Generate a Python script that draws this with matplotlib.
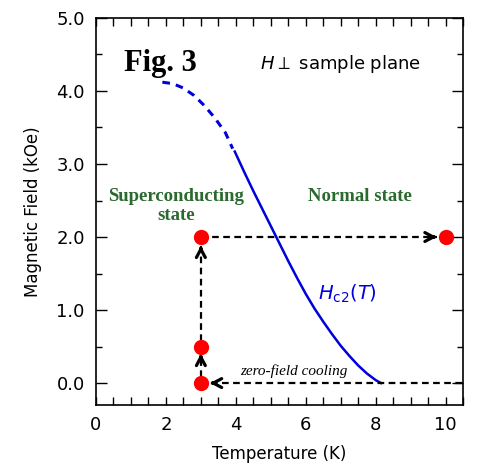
import numpy as np
import matplotlib
matplotlib.use("Agg")
import matplotlib.pyplot as plt
from matplotlib.ticker import MultipleLocator

# Hc2(T) curve
hc2_dash_T = [1.90, 2.20, 2.50, 2.80, 3.10, 3.40, 3.70, 3.91]
hc2_dash_H = [4.12, 4.10, 4.04, 3.94, 3.80, 3.63, 3.43, 3.21]
hc2_T = [3.97, 4.25, 4.50, 4.75, 5.00, 5.25, 5.50, 5.75, 6.00, 6.25, 6.50,
         6.75, 7.00, 7.25, 7.50, 7.75, 8.00, 8.15]
hc2_H = [3.17, 2.88, 2.63, 2.39, 2.15, 1.91, 1.67, 1.44, 1.22, 1.02, 0.84,
         0.67, 0.51, 0.37, 0.24, 0.13, 0.04, 0.00]

# measurement points
pts_T = [3, 3, 3, 10]
pts_H = [0, 0.5, 2.0, 2.0]

# path arrows (start T, start H, tip T, tip H)
arrows = [
    (10.46, 0.0, 3.26, 0.0),
    (3.0, 0.08, 3.0, 0.40),
    (3.0, 0.58, 3.0, 1.88),
    (3.0, 2.0, 9.74, 2.0),
]

green = '#2a6a2e'

fig = plt.figure(figsize=(4.82, 4.72), dpi=100)
ax = fig.add_axes([0.199, 0.142, 0.762, 0.820])

ax.plot(hc2_dash_T, hc2_dash_H, color='#0000dd', lw=2.2, ls=(0, (2.5, 2.0)))
ax.plot(hc2_T, hc2_H, color='#0000dd', lw=1.8, solid_joinstyle='round')

for x0, y0, x1, y1 in arrows:
    ax.plot([x0, x1], [y0, y1], color='black', lw=1.6, ls=(0, (3, 2)))
    dx, dy = x1 - x0, y1 - y0
    d = np.hypot(dx / 10.5, dy / 5.3)
    ax.annotate('', xy=(x1, y1), xytext=(x1 - dx / d * 0.01, y1 - dy / d * 0.01),
                arrowprops=dict(arrowstyle='->,head_length=0.6,head_width=0.32',
                                color='black', lw=2.3, shrinkA=0, shrinkB=0))

ax.plot(pts_T, pts_H, 'o', color='#ff0000', ms=11, mec='none', zorder=5)

ax.set_xlim(0, 10.5)
ax.set_ylim(-0.3, 5.0)
ax.xaxis.set_major_locator(MultipleLocator(2))
ax.xaxis.set_minor_locator(MultipleLocator(0.5))
ax.yaxis.set_major_locator(MultipleLocator(1))
ax.yaxis.set_minor_locator(MultipleLocator(0.5))
ax.set_yticks([0, 1, 2, 3, 4, 5])
ax.set_yticklabels(['0.0', '1.0', '2.0', '3.0', '4.0', '5.0'])
ax.tick_params(which='both', direction='in', top=True, right=True, width=1.0, labelsize=13, pad=8)
ax.tick_params(axis='x', which='both', length=6)
ax.tick_params(axis='y', which='major', length=8)
ax.tick_params(axis='y', which='minor', length=4)
for s in ax.spines.values():
    s.set_linewidth(1.2)

ax.set_xlabel('Temperature (K)', fontsize=12, labelpad=8)
ax.set_ylabel('Magnetic Field (kOe)', fontsize=12, labelpad=10)

ax.text(1.85, 4.37, 'Fig. 3', family='Liberation Serif', fontweight='bold',
        fontsize=22, ha='center', va='center')
ax.text(4.7, 4.37, r'$H\perp$ sample plane', fontsize=13, ha='left', va='center')
ax.text(2.3, 2.42, 'Superconducting\nstate', family='Liberation Serif', fontweight='bold',
        fontsize=13.5, color=green, ha='center', va='center', linespacing=1.15)
ax.text(7.55, 2.56, 'Normal state', family='Liberation Serif', fontweight='bold',
        fontsize=13.5, color=green, ha='center', va='center')
ax.text(6.35, 1.22, r'$H_{\mathrm{c2}}(T)$', fontsize=14, color='#0000dd', ha='left', va='center')
ax.text(5.65, 0.16, 'zero-field cooling', family='Liberation Serif', style='italic',
        fontsize=11, ha='center', va='center')

fig.savefig('out.png', dpi=100)
